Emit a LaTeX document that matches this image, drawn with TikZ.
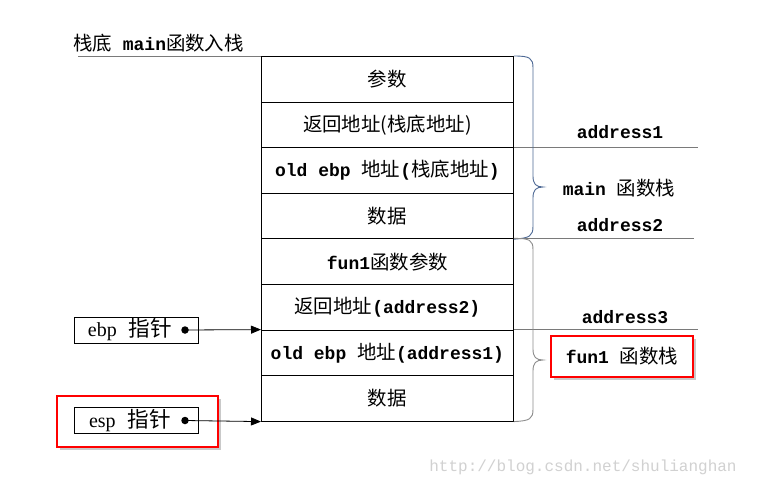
\documentclass[tikz,border=0pt]{standalone}
\usepackage{fontspec}
\usetikzlibrary{arrows.meta,shadows}
\newfontfamily\zhf[Scale=1.08]{Noto Sans CJK SC}
\newfontfamily\monof{Liberation Mono}
\newfontfamily\serf{Liberation Serif}
\newcommand\zh[1]{{\zhf #1}}
\newcommand\mo[1]{{\monof\bfseries #1}}
\definecolor{bracemain}{HTML}{4F6A96}
\definecolor{braceflat}{HTML}{8C8C8C}
\definecolor{glinec}{HTML}{7A7A7A}
\begin{document}
\begin{tikzpicture}[x=1pt,y=-1pt,
  txt/.style={font=\fontsize{18}{21}\selectfont, inner sep=0pt},
  cell/.style={txt, draw, line width=0.8pt, minimum width=252pt, minimum height=45.6pt, anchor=north west},
  gline/.style={draw=glinec, line width=0.8pt},
  ptr/.style={draw, line width=0.8pt, minimum width=124pt, minimum height=26pt, inner sep=0pt, font=\fontsize{20}{22}\selectfont},
  redbox/.style={draw=red, line width=2pt, fill=white, drop shadow={opacity=0.35, fill=black!60, shadow xshift=3pt, shadow yshift=-3pt}},
  arr/.style={line width=0.8pt, -{Triangle[length=10pt,width=8pt]}},
  dotc/.style={circle, fill, inner sep=0pt, minimum size=7.5pt}
]
\useasboundingbox (0,0) rectangle (760,489);
\fill[white] (0,0) rectangle (760,489);

% top label and base line
\node[txt, anchor=west] (toplbl) at (73,43) {\zh{栈底}\mo{ main}\zh{函数入栈}};
\coordinate (baseL) at (78,56.3);
\coordinate (baseR) at (261,56.3);
\draw[gline] (baseL) -- (baseR);

% stack cells
\node[cell] (r1) at (261,56)    {\zh{参数}};
\node[cell] (r2) at (261,101.6) {\zh{返回地址(栈底地址)}};
\node[cell] (r3) at (261,147.2) {\mo{old ebp }\zh{地址}\mo{(}\zh{栈底地址}\mo{)}};
\node[cell] (r4) at (261,192.8) {\zh{数据}};
\node[cell] (r5) at (261,238.4) {\mo{fun1}\zh{函数参数}};
\node[cell] (r6) at (261,284)   {\zh{返回地址}\mo{(address2)}};
\node[cell] (r7) at (261,329.6) {\mo{old ebp }\zh{地址}\mo{(address1)}};
\node[cell] (r8) at (261,375.2) {\zh{数据}};

% gray address lines
\coordinate (g1) at (698,147.2);
\coordinate (g2) at (694,238.4);
\coordinate (g3) at (698,329.6);
\draw[gline] (r3.north east) -- (g1);
\draw[gline] (r5.north east) -- (g2);
\draw[gline] (r7.north east) -- (g3);

% braces
\draw[bracemain, line width=0.9pt] (r1.north east) .. controls (530,56) and (533,58) .. (533,68)
  -- (533,176) .. controls (533,184) and (536,187) .. (543,187)
  .. controls (536,187) and (533,190) .. (533,198)
  -- (533,226) .. controls (533,236) and (530,238) .. (r4.south east);
\draw[braceflat, line width=0.9pt] (r5.north east) .. controls (530,238.4) and (533,240) .. (533,250)
  -- (533,349) .. controls (533,357) and (536,360) .. (543,360)
  .. controls (536,360) and (533,363) .. (533,371)
  -- (533,409) .. controls (533,419) and (530,420.8) .. (r8.south east);

% labels on the right
\node[txt] (a1) at (620,132) {\mo{address1}};
\node[txt] (mainlbl) at (619,188) {\mo{main }\zh{函数栈}};
\node[txt] (a2) at (620,225) {\mo{address2}};
\node[txt] (a3) at (625,317) {\mo{address3}};
\node[redbox, txt, minimum width=142pt, minimum height=41pt] (funlbl) at (622,356.5) {\mo{fun1 }\zh{函数栈}};

% pointers
\node[redbox, minimum width=161pt, minimum height=51pt, inner sep=0pt] (espred) at (137.5,421.5) {};
\node[ptr] (ebp) at (136,330) {\hspace*{-12pt}{\serf ebp}\ \ \zh{指针}};
\node[ptr, fill=white] (esp) at (136,420.5) {\hspace*{-12pt}{\serf esp}\ \ \zh{指针}};
\node[dotc] (ebpdot) at (185,330) {};
\node[dotc] (espdot) at (185,420.5) {};
\draw[arr] (ebpdot.center) -- (r7.north west);
\draw[arr] (espdot.center) -- (r8.south west);

% watermark
\node[inner sep=0pt, text=black!18, font=\monof\fontsize{16}{18}\selectfont] (wm) at (583,467) {http://blog.csdn.net/shulianghan};
\end{tikzpicture}
\end{document}
